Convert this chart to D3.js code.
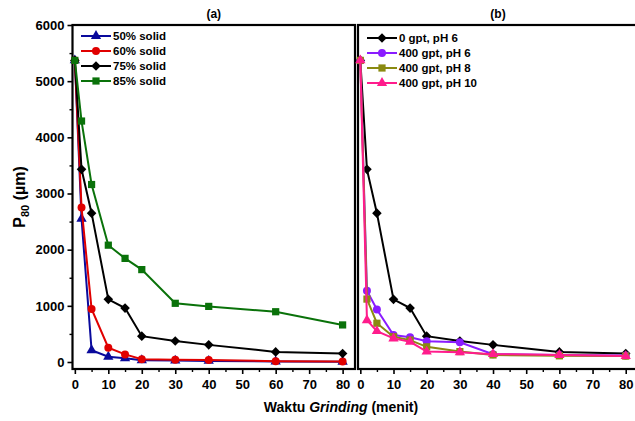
<!DOCTYPE html>
<html>
<head>
<meta charset="utf-8">
<script src="https://cdn.jsdelivr.net/npm/d3@7"></script>
<style>
  body { margin: 0; background: #fff; }
  text { font-family: "Liberation Sans", Arial, sans-serif; font-weight: bold; }
</style>
</head>
<body>
<div id="chart"></div>
<script>
const width = 635,
  height = 421;

// grinding time (minutes)
const times = [0, 2, 5, 10, 15, 20, 30, 40, 60, 80];

// panel (a): % solid
const solid50 = [5370, 2550, 210, 95, 65, 30, 25, 20, 10, 5];
const solid60 = [5370, 2750, 945, 255, 135, 50, 40, 35, 15, 10];
const solid75 = [5370, 3430, 2650, 1115, 960, 460, 375, 305, 180, 150];
const solid85 = [5370, 4290, 3160, 2080, 1845, 1645, 1045, 990, 895, 660];

// panel (b): collector dose / pH
const gpt0pH6 = [5370, 3430, 2650, 1115, 960, 460, 375, 305, 180, 150];
const gpt400pH6 = [5370, 1270, 935, 480, 440, 370, 350, 140, 125, 115];
const gpt400pH8 = [5370, 1120, 690, 450, 390, 270, 185, 125, 110, 105];
const gpt400pH10 = [5370, 745, 550, 420, 360, 185, 175, 140, 125, 105];

const xTicks = [0, 10, 20, 30, 40, 50, 60, 70, 80];
const yTicks = [0, 1000, 2000, 3000, 4000, 5000, 6000];

const seriesA = [
  { name: "50% solid", values: solid50, color: "#0a0a9c", symbol: "triangle" },
  { name: "60% solid", values: solid60, color: "#e00000", symbol: "circle" },
  { name: "75% solid", values: solid75, color: "#000000", symbol: "diamond" },
  { name: "85% solid", values: solid85, color: "#0a720a", symbol: "square" },
];
const seriesB = [
  { name: "0 gpt, pH 6", values: gpt0pH6, color: "#000000", symbol: "diamond" },
  { name: "400 gpt, pH 6", values: gpt400pH6, color: "#8a1cff", symbol: "circle" },
  { name: "400 gpt, pH 8", values: gpt400pH8, color: "#8a8a10", symbol: "square" },
  { name: "400 gpt, pH 10", values: gpt400pH10, color: "#ff1c8c", symbol: "triangle" },
];

const symbols = {
  triangle: { type: d3.symbolTriangle, size: 46, rot: 0 },
  circle: { type: d3.symbolCircle, size: 50, rot: 0 },
  square: { type: d3.symbolSquare, size: 52, rot: 0 },
  diamond: { type: d3.symbolSquare, size: 46, rot: 45 },
};

const svg = d3
  .select("#chart")
  .append("svg")
  .attr("width", width)
  .attr("height", height);

const frameTop = 25,
  frameBottom = 369;
const y = d3.scaleLinear().domain([0, 6000]).range([362, 25]);

function marker(sel, s, px, py) {
  const m = symbols[s.symbol];
  sel
    .append("path")
    .attr("transform", `translate(${px},${py}) rotate(${m.rot})`)
    .attr("d", d3.symbol().type(m.type).size(m.size))
    .attr("fill", s.color);
}

function drawPanel(series, x0, x1, title, showY, legendX, legendY) {
  const x = d3.scaleLinear().domain([-0.7, 83.7]).range([x0, x1]);
  const g = svg.append("g");

  // x axis
  const xAxis = d3.axisBottom(x).tickValues(xTicks).tickSize(5).tickPadding(6);
  const xa = g.append("g").attr("transform", `translate(0,${frameBottom})`).call(xAxis);
  xa.select(".domain").remove();
  xa.selectAll("text").attr("font-size", 13).attr("fill", "#000");
  xa.selectAll("line").attr("stroke-width", 1.6);
  g.append("g")
    .attr("transform", `translate(0,${frameBottom})`)
    .call(d3.axisBottom(x).tickValues(d3.range(5, 85, 10)).tickSize(3).tickFormat(""))
    .call((s) => s.select(".domain").remove())
    .selectAll("line")
    .attr("stroke-width", 1.4);

  if (showY) {
    const ya = g
      .append("g")
      .attr("transform", `translate(${x0},0)`)
      .call(d3.axisLeft(y).tickValues(yTicks).tickFormat(d3.format("d")).tickSize(5).tickPadding(3));
    ya.select(".domain").remove();
    ya.selectAll("text").attr("font-size", 13).attr("fill", "#000");
    ya.selectAll("line").attr("stroke-width", 1.6);
    g.append("g")
      .attr("transform", `translate(${x0},0)`)
      .call(d3.axisLeft(y).tickValues(d3.range(500, 6000, 1000)).tickSize(3).tickFormat(""))
      .call((s) => s.select(".domain").remove())
      .selectAll("line")
      .attr("stroke-width", 1.4);
  }

  // frame
  g.append("rect")
    .attr("x", x0)
    .attr("y", frameTop)
    .attr("width", x1 - x0)
    .attr("height", frameBottom - frameTop)
    .attr("fill", "none")
    .attr("stroke", "#000")
    .attr("stroke-width", 2.2);

  g.append("text")
    .attr("x", (x0 + x1) / 2)
    .attr("y", 18)
    .attr("text-anchor", "middle")
    .attr("font-size", 12)
    .text(title);

  const line = d3
    .line()
    .x((d, i) => x(times[i]))
    .y((d) => y(d));

  series.forEach((s) => {
    g.append("path")
      .datum(s.values)
      .attr("d", line)
      .attr("fill", "none")
      .attr("stroke", s.color)
      .attr("stroke-width", 2);
    s.values.forEach((v, i) => marker(g, s, x(times[i]), y(v)));
  });

  // legend
  series.forEach((s, i) => {
    const ly = legendY + i * 15;
    const lg = g.append("g");
    lg.append("line")
      .attr("x1", legendX)
      .attr("x2", legendX + 30)
      .attr("y1", ly)
      .attr("y2", ly)
      .attr("stroke", s.color)
      .attr("stroke-width", 2);
    marker(lg, s, legendX + 15, ly);
    lg.append("text")
      .attr("x", legendX + 32)
      .attr("y", ly + 4)
      .attr("font-size", 11.5)
      .text(s.name);
  });
}

drawPanel(seriesA, 72.5, 355, "(a)", true, 81, 36);
drawPanel(seriesB, 358, 638, "(b)", false, 367, 38);

// axis titles
const yt = svg
  .append("text")
  .attr("transform", "translate(25,197) rotate(-90)")
  .attr("text-anchor", "middle")
  .attr("font-size", 16);
yt.append("tspan").text("P");
yt.append("tspan").attr("font-size", 11).attr("dy", 4).text("80");
yt.append("tspan").attr("dy", -4).text(" (\u00b5m)");

const xt = svg
  .append("text")
  .attr("x", 341)
  .attr("y", 412)
  .attr("text-anchor", "middle")
  .attr("font-size", 14);
xt.append("tspan").text("Waktu ");
xt.append("tspan").attr("font-style", "italic").text("Grinding");
xt.append("tspan").text(" (menit)");
</script>
</body>
</html>
